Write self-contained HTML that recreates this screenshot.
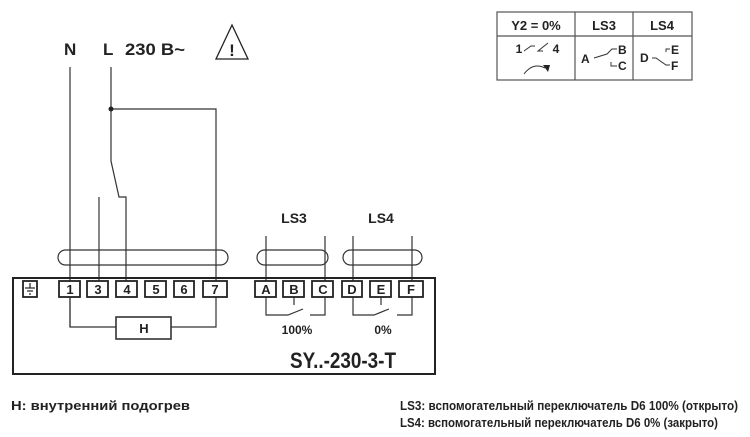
<!DOCTYPE html>
<html><head><meta charset="utf-8"><style>
html,body{margin:0;padding:0;background:#fff}
svg{display:block}
text{font-family:"Liberation Sans",sans-serif;font-weight:bold;fill:#222}
</style></head><body>
<svg width="750" height="437" viewBox="0 0 750 437" xmlns="http://www.w3.org/2000/svg">
<g stroke="#333" stroke-width="1.2" fill="none">
<!-- top wiring -->
<line x1="70" y1="67" x2="70" y2="327"/>
<polyline points="111,67 111,161 119,197 126,197 126,297"/>
<line x1="99" y1="197" x2="99" y2="297"/>
<polyline points="111,109 216,109 216,297"/>
<!-- cable ovals -->
<rect x="58" y="250" width="170" height="15" rx="7.5"/>
<rect x="257" y="250" width="71" height="15" rx="7.5"/>
<rect x="343" y="250" width="79" height="15" rx="7.5"/>
<line x1="266" y1="236" x2="266" y2="281"/>
<line x1="325" y1="236" x2="325" y2="281"/>
<line x1="353" y1="236" x2="353" y2="281"/>
<line x1="412" y1="236" x2="412" y2="281"/>
<!-- H -->
<polyline points="70,297 70,327 116,327"/>
<polyline points="171,327 216,327 216,297"/>
<rect x="116" y="317" width="55" height="22" stroke-width="1.6"/>
<!-- switches -->
<polyline points="266,297 266,315 288,315 303,309"/>
<polyline points="294,297 294,305"/>
<polyline points="310,315 325,315 325,297"/>
<polyline points="353,297 353,315 374,315 389,309"/>
<polyline points="381,297 381,305"/>
<polyline points="397,315 412,315 412,297"/>
</g>
<circle cx="111" cy="109" r="2.5" fill="#222"/>
<!-- main box -->
<rect x="13" y="278" width="422" height="96" fill="none" stroke="#222" stroke-width="2"/>
<g stroke="#222" stroke-width="1.8" fill="#fff">
<rect x="23" y="281" width="14" height="16"/>
<rect x="59" y="281" width="21" height="16"/>
<rect x="87" y="281" width="21" height="16"/>
<rect x="116" y="281" width="21" height="16"/>
<rect x="145" y="281" width="21" height="16"/>
<rect x="174" y="281" width="20" height="16"/>
<rect x="203" y="281" width="24" height="16"/>
<rect x="255" y="281" width="21" height="16"/>
<rect x="283" y="281" width="21" height="16"/>
<rect x="312" y="281" width="21" height="16"/>
<rect x="342" y="281" width="20" height="16"/>
<rect x="370" y="281" width="21" height="16"/>
<rect x="399" y="281" width="24" height="16"/>
</g>
<g stroke="#222" stroke-width="1.2">
<line x1="30" y1="283" x2="30" y2="288"/><line x1="25" y1="288" x2="35" y2="288"/><line x1="27" y1="291" x2="33" y2="291"/><line x1="29" y1="294" x2="31" y2="294"/>
</g>
<g font-size="13" text-anchor="middle">
<text x="70" y="294">1</text><text x="98" y="294">3</text><text x="127" y="294">4</text><text x="156" y="294">5</text><text x="184" y="294">6</text><text x="215" y="294">7</text>
<text x="266" y="294">A</text><text x="294" y="294">B</text><text x="323" y="294">C</text><text x="352" y="294">D</text><text x="381" y="294">E</text><text x="411" y="294">F</text>
<text x="144" y="333">H</text>
<text x="294" y="223" font-size="14">LS3</text>
<text x="381" y="223" font-size="14">LS4</text>
</g>
<text x="297" y="334" font-size="12" text-anchor="middle" font-weight="normal">100%</text>
<text x="383" y="334" font-size="12" text-anchor="middle" font-weight="normal">0%</text>
<text x="290" y="368" font-size="22" textLength="106" lengthAdjust="spacingAndGlyphs">SY..-230-3-T</text>
<!-- top labels -->
<text x="64" y="55" font-size="17">N</text>
<text x="103" y="55" font-size="17">L</text>
<text x="125" y="55" font-size="17" textLength="60" lengthAdjust="spacingAndGlyphs">230 B~</text>
<polygon points="232,25 216,59 248,59" fill="none" stroke="#222" stroke-width="1.3"/>
<text x="232" y="56" font-size="17" text-anchor="middle" font-weight="normal">!</text>
<!-- table -->
<g stroke="#555" stroke-width="1.2" fill="none">
<rect x="497" y="12" width="195" height="68"/>
<line x1="497" y1="36" x2="692" y2="36"/>
<line x1="575" y1="12" x2="575" y2="80"/>
<line x1="633" y1="12" x2="633" y2="80"/>
</g>
<g font-size="13" text-anchor="middle">
<text x="536" y="30">Y2 = 0%</text><text x="604" y="30">LS3</text><text x="662" y="30">LS4</text>
<text x="519" y="53" font-size="12">1</text><text x="556" y="53" font-size="12">4</text>
</g>
<g stroke="#333" stroke-width="1" fill="none">
<polyline points="524,51 531,46 535,46"/>
<polyline points="543,51 538,51 548,43"/>
<path d="M524,74 Q533,62 545,68"/>
<polyline points="594,58 607,54 612,49 617,49"/>
<polyline points="611,62 611,66 617,66"/>
<polyline points="652,58 656,58 666,65 670,65"/>
<polyline points="670,49 666,49 666,52"/>
</g>
<polygon points="543,65 548,72 550,65" fill="#222"/>
<g font-size="12">
<text x="581" y="63">A</text><text x="618" y="54">B</text><text x="618" y="70">C</text>
<text x="640" y="62">D</text><text x="671" y="54">E</text><text x="671" y="70">F</text>
</g>
<!-- bottom texts -->
<text x="11" y="410" font-size="13" textLength="179" lengthAdjust="spacingAndGlyphs">H: внутренний подогрев</text>
<text x="400" y="410" font-size="13" textLength="338" lengthAdjust="spacingAndGlyphs">LS3: вспомогательный переключатель D6 100% (открыто)</text>
<text x="400" y="427" font-size="13" textLength="318" lengthAdjust="spacingAndGlyphs">LS4: вспомогательный переключатель D6 0% (закрыто)</text>
</svg>
</body></html>
